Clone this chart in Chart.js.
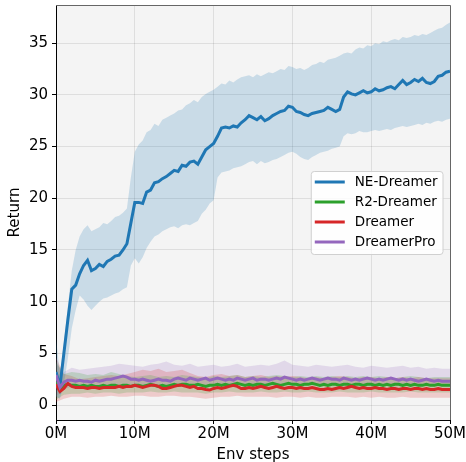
<!DOCTYPE html>
<html>
<head>
<meta charset="utf-8">
<script src="https://cdn.jsdelivr.net/npm/chart.js@4.4.0/dist/chart.umd.min.js"></script>
<style>
  html, body { margin: 0; padding: 0; background: #fff; }
  #wrap { width: 466px; height: 462px; }
</style>
</head>
<body>
<div id="wrap"><canvas id="chart" width="466" height="462"></canvas></div>
<script>
// x grid in millions of env steps
const steps = Array.from({ length: 101 }, (_, i) => i * 0.5);
const bandSteps = Array.from({ length: 51 }, (_, i) => i);

const xTicks = [0, 10, 20, 30, 40, 50];
const yTicks = [0, 5, 10, 15, 20, 25, 30, 35];

const labels = ['NE-Dreamer', 'R2-Dreamer', 'Dreamer', 'DreamerPro'];
const colors = ['#1f77b4', '#2ca02c', '#d62728', '#9467bd'];

// NE-Dreamer (mean, upper, lower) at 0.5M resolution
const neMean = [
  3.2, 1.8, 5.0, 8.2, 11.2, 11.6, 12.7, 13.5, 14.0, 13.0,
  13.2, 13.6, 13.4, 13.9, 14.1, 14.4, 14.5, 15.0, 15.6, 17.6,
  19.6, 19.6, 19.5, 20.6, 20.8, 21.5, 21.6, 21.9, 22.1, 22.4,
  22.7, 22.6, 23.2, 23.1, 23.5, 23.6, 23.3, 24.0, 24.7, 25.0,
  25.3, 26.0, 26.8, 26.9, 26.8, 27.0, 26.9, 27.3, 27.6, 28.0,
  27.8, 27.6, 27.9, 27.5, 27.7, 28.0, 28.2, 28.4, 28.5, 28.9,
  28.8, 28.4, 28.3, 28.1, 28.0, 28.2, 28.3, 28.4, 28.5, 28.8,
  28.6, 28.4, 28.6, 29.8, 30.3, 30.1, 30.0, 30.2, 30.4, 30.2,
  30.3, 30.6, 30.4, 30.5, 30.7, 30.8, 30.6, 31.0, 31.4, 31.0,
  31.2, 31.5, 31.3, 31.6, 31.2, 31.1, 31.3, 31.8, 31.9, 32.2,
  32.3
];
const neUpper = [
  6.5, 3.0, 6.0, 9.5, 13.0, 15.0, 16.3, 17.0, 17.4, 16.8,
  17.0, 17.2, 17.6, 17.5, 17.8, 18.2, 18.3, 18.6, 19.0, 22.0,
  24.5, 25.2, 25.6, 26.4, 26.6, 27.2, 27.0, 27.6, 27.8, 28.0,
  28.2, 28.5, 28.6, 29.0, 29.2, 29.5, 29.3, 29.8, 30.1, 30.3,
  30.5, 30.8, 31.1, 31.0, 31.4, 31.2, 31.5, 31.7, 31.8, 31.9,
  31.7, 32.0, 31.8, 32.0, 32.2, 32.1, 32.3, 32.5, 32.4, 32.8,
  32.7, 32.5, 32.6, 32.4, 32.6, 32.9, 33.0, 33.2, 33.1, 33.4,
  33.5, 33.6, 33.8, 34.0, 34.1, 34.0, 34.4, 34.6, 34.5, 34.8,
  34.7, 35.0, 34.9, 35.2, 35.1, 35.3, 35.4, 35.3, 35.6, 35.5,
  35.6, 35.8, 35.7, 35.9, 35.8, 36.0, 36.2, 36.4, 36.5, 36.8,
  37.0
];
const neLower = [
  0.8, 0.6, 2.0, 4.5, 7.4, 9.2, 10.6, 10.2, 9.6, 9.2,
  9.6, 10.0, 10.3, 10.4, 10.6, 10.8, 10.9, 11.2, 11.4, 13.5,
  14.2, 13.7, 14.3, 15.2, 15.8, 16.3, 16.5, 16.8, 17.0, 17.2,
  17.3, 17.1, 17.4, 17.5, 17.4, 17.6, 17.8, 18.5, 18.9, 19.5,
  19.8, 22.0, 22.5, 22.6, 22.7, 22.9, 23.0, 23.1, 23.3, 23.5,
  23.6, 23.3, 23.6, 23.4, 23.5, 23.7, 23.8, 24.0, 24.2, 24.4,
  24.5, 24.3, 24.0, 23.8, 23.7, 24.0, 24.2, 24.4, 24.5, 24.6,
  24.8, 24.9, 25.0, 26.0, 26.3, 26.2, 26.3, 26.5, 26.4, 26.4,
  26.5, 26.6, 26.5, 26.6, 26.7, 26.6, 26.8, 26.9, 27.0, 26.9,
  27.0, 27.1, 27.2, 27.1, 27.3, 27.2, 27.4, 27.5, 27.4, 27.6,
  27.7
];

// baselines: means at 0.5M, bands at 1M
const r2Mean = [
  2.2, 1.5, 1.9, 2.0, 1.9, 1.9, 1.8, 1.9, 1.8, 1.9,
  1.8, 1.8, 1.9, 1.8, 1.9, 1.9, 1.8, 1.9, 1.9, 1.8,
  1.9, 1.9, 1.8, 1.9, 2.0, 1.9, 1.8, 1.9, 1.8, 1.9,
  2.0, 1.9, 2.0, 2.0, 1.9, 1.9, 2.0, 1.9, 1.8, 1.9,
  1.9, 2.0, 1.9, 2.0, 1.9, 2.0, 2.1, 2.0, 1.9, 2.0,
  1.9, 2.0, 2.0, 1.9, 2.0, 2.1, 2.0, 1.9, 2.0, 2.1,
  2.0, 2.0, 1.9, 2.0, 2.0, 2.1, 2.0, 1.9, 2.0, 1.9,
  2.0, 2.0, 1.9, 2.0, 2.0, 1.9, 2.0, 2.0, 1.9, 2.0,
  2.0, 1.9, 2.0, 1.9, 2.0, 1.9, 2.0, 2.0, 1.9, 2.0,
  1.9, 2.0, 1.9, 1.9, 2.0, 1.9, 1.9, 2.0, 1.9, 1.9,
  1.9
];
const dreamerMean = [
  2.0, 1.3, 1.6, 2.1, 1.8, 1.7, 1.7, 1.7, 1.6, 1.7,
  1.7, 1.6, 1.7, 1.7, 1.7, 1.7, 1.8, 1.7, 1.8, 1.8,
  1.9, 1.8, 1.7, 1.8, 1.9, 1.9, 1.8, 1.6, 1.6, 1.7,
  1.8, 1.9, 1.9, 1.8, 1.7, 1.8, 1.6, 1.6, 1.5, 1.45,
  1.6, 1.7, 1.6, 1.7, 1.8, 1.9, 1.8, 1.6, 1.6, 1.7,
  1.6, 1.7, 1.8, 1.7, 1.6, 1.7, 1.8, 1.7, 1.6, 1.7,
  1.7, 1.6, 1.7, 1.6, 1.6, 1.7, 1.6, 1.5, 1.5, 1.6,
  1.5, 1.6, 1.7, 1.6, 1.7, 1.8, 1.7, 1.6, 1.7, 1.6,
  1.6, 1.7, 1.6, 1.6, 1.5, 1.6, 1.6, 1.5, 1.6, 1.6,
  1.5, 1.6, 1.6, 1.5, 1.6, 1.5, 1.5, 1.6, 1.5, 1.5,
  1.5
];
const proMean = [
  2.9, 1.7, 2.2, 2.4, 2.4, 2.3, 2.4, 2.3, 2.3, 2.2,
  2.4, 2.3, 2.4, 2.5, 2.5, 2.6, 2.7, 2.8, 2.7, 2.5,
  2.5, 2.4, 2.5, 2.4, 2.3, 2.4, 2.5, 2.4, 2.4, 2.3,
  2.5, 2.6, 2.5, 2.4, 2.6, 2.5, 2.4, 2.5, 2.6, 2.4,
  2.5, 2.6, 2.5, 2.4, 2.5, 2.4, 2.6, 2.5, 2.4, 2.5,
  2.6, 2.4, 2.5, 2.5, 2.4, 2.5, 2.6, 2.5, 2.7, 2.6,
  2.5, 2.4, 2.5, 2.4, 2.5, 2.6, 2.5, 2.4, 2.5, 2.6,
  2.5, 2.5, 2.4, 2.6, 2.5, 2.4, 2.5, 2.4, 2.5, 2.6,
  2.5, 2.4, 2.5, 2.4, 2.5, 2.6, 2.5, 2.4, 2.5, 2.4,
  2.5, 2.4, 2.3, 2.4, 2.5, 2.4, 2.3, 2.4, 2.3, 2.3,
  2.3
];

const r2Upper = [
  4.2, 3.0, 3.2, 3.1, 2.9, 3.0, 2.9, 3.2, 3.0, 2.8,
  2.7, 2.8, 2.9, 2.7, 2.8, 2.7, 2.9, 2.8, 2.7, 2.6,
  2.8, 2.7, 2.8, 2.9, 2.7, 2.8, 2.7, 2.8, 2.9, 2.8,
  2.7, 2.8, 2.7, 2.8, 2.7, 2.8, 2.7, 2.8, 2.7, 2.8,
  2.7, 2.8, 2.7, 2.6, 2.7, 2.8, 2.7, 2.6, 2.7, 2.7,
  2.7
];
const r2Lower = [
  0.5, 1.0, 1.1, 1.1, 1.2, 1.1, 1.2, 1.2, 1.1, 1.2,
  1.2, 1.2, 1.3, 1.2, 1.2, 1.3, 1.2, 1.2, 1.2, 1.1,
  1.2, 1.2, 1.3, 1.2, 1.2, 1.2, 1.3, 1.2, 1.2, 1.3,
  1.2, 1.2, 1.3, 1.2, 1.2, 1.2, 1.3, 1.2, 1.2, 1.2,
  1.3, 1.2, 1.2, 1.2, 1.2, 1.3, 1.2, 1.2, 1.2, 1.2,
  1.2
];
const dreamerUpper = [
  4.6, 3.0, 2.8, 2.5, 2.6, 2.7, 2.8, 2.9, 2.8, 3.0,
  3.2, 3.4, 3.3, 3.5, 3.2, 3.3, 3.4, 3.1, 2.8, 2.7,
  2.9, 3.0, 2.8, 2.9, 2.7, 2.8, 2.9, 2.7, 2.8, 2.7,
  2.8, 2.7, 2.6, 2.7, 2.6, 2.7, 2.8, 2.7, 2.6, 2.7,
  2.7, 2.6, 2.7, 2.6, 2.7, 2.6, 2.7, 2.6, 2.6, 2.6,
  2.6
];
const dreamerLower = [
  0.3, 0.6, 0.8, 0.8, 0.7, 0.8, 0.8, 0.9, 0.8, 0.8,
  0.9, 0.9, 0.8, 0.8, 0.9, 0.9, 0.8, 0.8, 0.7, 0.6,
  0.7, 0.8, 0.8, 0.9, 0.8, 0.8, 0.8, 0.8, 0.7, 0.8,
  0.8, 0.7, 0.8, 0.7, 0.7, 0.8, 0.8, 0.8, 0.7, 0.8,
  0.7, 0.8, 0.7, 0.7, 0.8, 0.7, 0.7, 0.7, 0.7, 0.7,
  0.7
];
const proUpper = [
  4.0, 3.2, 3.6, 3.4, 3.5, 3.6, 3.7, 3.8, 4.0, 3.9,
  3.8, 3.7, 3.9, 4.0, 4.2, 3.9, 3.8, 4.0, 3.7, 3.8,
  3.9, 3.7, 3.8, 4.0, 3.7, 3.8, 3.9, 3.8, 4.0, 4.3,
  3.9, 3.8, 3.7, 3.9, 3.8, 3.7, 3.8, 3.9, 3.7, 3.6,
  3.8, 3.7, 3.6, 3.7, 3.8, 3.6, 3.7, 3.5, 3.6, 3.5,
  3.5
];
const proLower = [
  0.8, 1.5, 1.8, 1.7, 1.7, 1.8, 1.8, 1.9, 2.0, 2.0,
  1.9, 1.9, 1.8, 1.9, 1.8, 1.9, 1.9, 1.8, 1.9, 1.8,
  1.9, 1.9, 1.8, 1.9, 1.9, 1.8, 1.9, 1.9, 2.0, 1.9,
  1.9, 1.8, 1.9, 1.9, 1.8, 1.9, 1.9, 1.8, 1.9, 1.9,
  1.8, 1.9, 1.9, 1.8, 1.9, 1.8, 1.8, 1.9, 1.8, 1.8,
  1.8
];

const toXY = (xs, ys) => ys.map((y, i) => ({ x: xs[i], y }));

const hexToRgba = (hex, a) => {
  const n = parseInt(hex.slice(1), 16);
  return `rgba(${(n >> 16) & 255}, ${(n >> 8) & 255}, ${n & 255}, ${a})`;
};

const bandPair = (xs, lower, upper, color) => [
  { label: '_lo', data: toXY(xs, lower), borderWidth: 0, pointRadius: 0, fill: false, order: 10 },
  { label: '_hi', data: toXY(xs, upper), borderWidth: 0, pointRadius: 0, fill: '-1',
    backgroundColor: hexToRgba(color, 0.2), order: 10 },
];

const lineSet = (label, ys, color, order) => ({
  label, data: toXY(steps, ys), borderColor: color, backgroundColor: color,
  borderWidth: 3, pointRadius: 0, tension: 0, fill: false, order,
});

const datasets = [
  ...bandPair(steps, neLower, neUpper, colors[0]),
  ...bandPair(bandSteps, r2Lower, r2Upper, colors[1]),
  ...bandPair(bandSteps, dreamerLower, dreamerUpper, colors[2]),
  ...bandPair(bandSteps, proLower, proUpper, colors[3]),
  lineSet(labels[0], neMean, colors[0], 4),
  lineSet(labels[1], r2Mean, colors[1], 3),
  lineSet(labels[2], dreamerMean, colors[2], 2),
  lineSet(labels[3], proMean, colors[3], 1),
];

const FONT = "'DejaVu Sans', sans-serif";

const frame = {
  id: 'frame',
  beforeDraw(chart) {
    const { ctx, chartArea: a } = chart;
    ctx.save();
    ctx.fillStyle = '#f4f4f4';
    ctx.fillRect(a.left, a.top, a.right - a.left, a.bottom - a.top);
    ctx.restore();
  },
  afterDraw(chart) {
    const { ctx, chartArea: a } = chart;
    ctx.save();
    // top and right spines
    ctx.strokeStyle = '#666';
    ctx.lineWidth = 1;
    ctx.beginPath();
    ctx.moveTo(a.left, a.top + 0.5);
    ctx.lineTo(a.right + 0.5, a.top + 0.5);
    ctx.lineTo(a.right + 0.5, a.bottom);
    ctx.stroke();

    // legend, "center right" inside the axes
    const items = chart.data.datasets.filter(d => !d.label.startsWith('_'));
    ctx.font = `13.5px ${FONT}`;
    const textW = Math.max(...items.map(d => ctx.measureText(d.label).width));
    const rowH = 20;
    const boxW = 4 + 30 + 10 + textW + 5;
    const boxH = items.length * rowH + 3;
    const bx = a.right - 7.5 - boxW;
    const by = (a.top + a.bottom) / 2 - boxH / 2;
    ctx.fillStyle = 'rgba(255,255,255,0.85)';
    ctx.strokeStyle = '#d0d0d0';
    ctx.beginPath();
    ctx.roundRect(bx + 0.5, by + 0.5, boxW, boxH, 3);
    ctx.fill();
    ctx.stroke();
    items.forEach((d, i) => {
      const cy = by + 11 + i * rowH;
      ctx.strokeStyle = d.borderColor;
      ctx.lineWidth = 3;
      ctx.beginPath();
      ctx.moveTo(bx + 4, cy);
      ctx.lineTo(bx + 34, cy);
      ctx.stroke();
      ctx.fillStyle = '#000';
      ctx.textBaseline = 'middle';
      ctx.textAlign = 'left';
      ctx.fillText(d.label, bx + 44, cy);
    });
    ctx.restore();
  }
};

new Chart(document.getElementById('chart'), {
  type: 'line',
  data: { datasets },
  plugins: [frame],
  options: {
    responsive: false,
    animation: false,
    layout: { padding: { left: 0, right: 16, top: 5, bottom: 0 } },
    plugins: {
      legend: { display: false },
      tooltip: { enabled: false },
    },
    scales: {
      x: {
        type: 'linear',
        min: 0,
        max: 50,
        afterBuildTicks: s => { s.ticks = xTicks.map(v => ({ value: v })); },
        afterFit: s => { s.height = 42; s.paddingLeft = 0; s.paddingRight = 0; },
        ticks: {
          color: '#000',
          font: { family: FONT, size: 15 },
          padding: 1,
          maxRotation: 0,
          callback: v => v + 'M',
        },
        grid: { color: 'rgba(0,0,0,0.09)', tickColor: '#000', tickLength: 4 },
        border: { color: '#000', width: 1 },
        title: {
          display: true, text: 'Env steps', color: '#000',
          font: { family: FONT, size: 15 }, padding: { top: 0, bottom: -2 },
        },
      },
      y: {
        min: -1.45,
        max: 38.7,
        afterBuildTicks: s => { s.ticks = yTicks.map(v => ({ value: v })); },
        afterFit: s => { s.width = 56; s.paddingTop = 0; s.paddingBottom = 0; },
        ticks: {
          color: '#000',
          font: { family: FONT, size: 15 },
          padding: 4,
        },
        grid: { color: 'rgba(0,0,0,0.09)', tickColor: '#000', tickLength: 4 },
        border: { color: '#000', width: 1 },
        title: {
          display: true, text: 'Return', color: '#000',
          font: { family: FONT, size: 15 }, padding: { top: 6, bottom: 0 },
        },
      },
    },
  },
});
</script>
</body>
</html>
